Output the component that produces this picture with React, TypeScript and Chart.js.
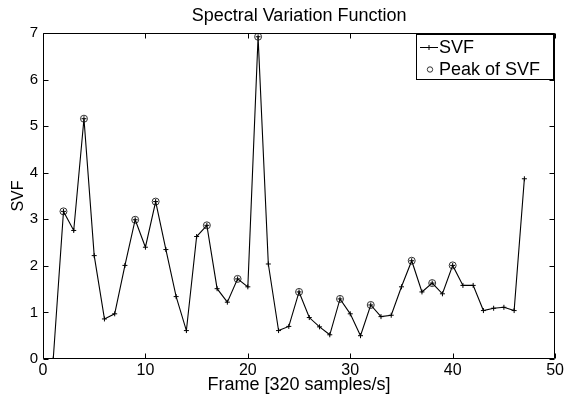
import React, { useEffect, useRef } from "react";
import { Chart, registerables } from "chart.js";

Chart.register(...registerables);

const frames = [
  1, 2, 3, 4, 5, 6, 7, 8, 9, 10, 11, 12, 13, 14, 15, 16, 17, 18, 19, 20, 21, 22, 23, 24,
  25, 26, 27, 28, 29, 30, 31, 32, 33, 34, 35, 36, 37, 38, 39, 40, 41, 42, 43, 44, 45, 46, 47,
];
const svfValues = [
  0.0, 3.17, 2.76, 5.16, 2.22, 0.86, 0.97, 2.01, 2.99, 2.4, 3.38, 2.35, 1.34, 0.61, 2.63, 2.87,
  1.51, 1.22, 1.72, 1.55, 6.92, 2.04, 0.61, 0.7, 1.44, 0.89, 0.69, 0.52, 1.29, 0.97, 0.5, 1.16,
  0.91, 0.94, 1.55, 2.11, 1.44, 1.63, 1.4, 2.01, 1.58, 1.58, 1.04, 1.09, 1.11, 1.04, 3.87,
];
const peakFrames = [2, 4, 9, 11, 16, 19, 21, 25, 29, 32, 36, 38, 40];
const xTicks = [0, 10, 20, 30, 40, 50];
const yTicks = [0, 1, 2, 3, 4, 5, 6, 7];
const titleText = "Spectral Variation Function";
const xLabel = "Frame [320 samples/s]";
const yLabel = "SVF";
const legendLabels = ["SVF", "Peak of SVF"];

const FONT = "'Liberation Sans', Arial, Helvetica, sans-serif";

const framePlugin = {
  id: "matlabFrame",
  afterDatasetsDraw(chart: any) {
    const { ctx, chartArea } = chart;
    const { left, right, top, bottom } = chartArea;
    const xs = chart.scales.x;
    const ys = chart.scales.y;
    ctx.save();
    ctx.strokeStyle = "#000";
    ctx.lineWidth = 1;
    const L = Math.round(left) + 0.5;
    const R = Math.round(right) - 0.5;
    const T = Math.round(top) + 0.5;
    const B = Math.round(bottom) - 0.5;
    ctx.beginPath();
    ctx.rect(L, T, R - L, B - T);
    ctx.stroke();
    const tl = 5;
    ctx.beginPath();
    xTicks.forEach((v) => {
      const px = Math.round(xs.getPixelForValue(v)) + 0.5;
      ctx.moveTo(px, B);
      ctx.lineTo(px, B - tl);
      ctx.moveTo(px, T);
      ctx.lineTo(px, T + tl);
    });
    yTicks.forEach((v) => {
      const py = Math.round(ys.getPixelForValue(v)) + 0.5;
      ctx.moveTo(L, py);
      ctx.lineTo(L + tl, py);
      ctx.moveTo(R, py);
      ctx.lineTo(R - tl, py);
    });
    ctx.stroke();

    // title
    ctx.fillStyle = "#000";
    ctx.font = `18px ${FONT}`;
    ctx.textAlign = "center";
    ctx.textBaseline = "middle";
    ctx.fillText(titleText, (left + right) / 2, 16);

    // legend
    const bx = 416.5;
    const by = 34.5;
    const bw = 137;
    const bh = 45;
    ctx.fillStyle = "#fff";
    ctx.fillRect(bx, by, bw, bh);
    ctx.strokeStyle = "#000";
    ctx.strokeRect(bx, by, bw, bh);
    ctx.font = `18px ${FONT}`;
    ctx.textAlign = "left";
    ctx.textBaseline = "middle";
    ctx.fillStyle = "#000";
    const y1 = 47.5;
    ctx.beginPath();
    ctx.moveTo(420, y1);
    ctx.lineTo(438, y1);
    ctx.moveTo(429, y1 - 2.5);
    ctx.lineTo(429, y1 + 2.5);
    ctx.stroke();
    ctx.fillText(legendLabels[0], 439, 48);
    const y2 = 69.5;
    ctx.beginPath();
    ctx.strokeStyle = "#333";
    ctx.arc(430, y2, 2.7, 0, Math.PI * 2);
    ctx.stroke();
    ctx.fillText(legendLabels[1], 439, 70);
    ctx.restore();
  },
};

export default function App() {
  const ref = useRef<HTMLCanvasElement | null>(null);

  useEffect(() => {
    document.body.style.margin = "0";
    const canvas = ref.current;
    if (!canvas) return;
    Chart.defaults.font.family = FONT;
    Chart.defaults.color = "#000";

    const lineData = frames.map((f, i) => ({ x: f, y: svfValues[i] }));
    const peakData = peakFrames.map((f) => ({ x: f, y: svfValues[frames.indexOf(f)] }));

    const chart = new Chart(canvas, {
      type: "line",
      data: {
        datasets: [
          {
            label: legendLabels[0],
            data: lineData,
            borderColor: "#000",
            borderWidth: 1.1,
            tension: 0,
            fill: false,
            pointStyle: "cross",
            pointRadius: 2.5,
            pointBorderColor: "#000",
            pointBorderWidth: 1,
          },
          {
            label: legendLabels[1],
            data: peakData,
            showLine: false,
            pointStyle: "circle",
            pointRadius: 3.5,
            pointBorderColor: "#333",
            pointBackgroundColor: "rgba(0,0,0,0)",
            pointBorderWidth: 1,
          },
        ],
      },
      options: {
        responsive: false,
        animation: false,
        devicePixelRatio: 1,
        layout: { padding: { top: 33, right: 10, left: 0, bottom: 0 } },
        plugins: {
          legend: { display: false },
          title: { display: false },
          tooltip: { enabled: false },
        },
        scales: {
          x: {
            type: "linear",
            min: 0,
            max: 50,
            grid: { display: false, drawTicks: false },
            border: { display: false },
            ticks: { padding: 2, font: { size: 16, family: FONT }, color: "#000" },
            afterBuildTicks: (s: any) => {
              s.ticks = xTicks.map((v) => ({ value: v }));
            },
            afterFit: (s: any) => {
              s.height = 40;
            },
            title: {
              display: true,
              text: xLabel,
              color: "#000",
              font: { size: 18, family: FONT },
              padding: { top: 0, bottom: 3 },
            },
          },
          y: {
            type: "linear",
            min: 0,
            max: 7,
            grid: { display: false, drawTicks: false },
            border: { display: false },
            ticks: { padding: 5, font: { size: 15, family: FONT }, color: "#000" },
            afterBuildTicks: (s: any) => {
              s.ticks = yTicks.map((v) => ({ value: v }));
            },
            afterFit: (s: any) => {
              s.width = 43;
            },
            title: {
              display: true,
              text: yLabel,
              color: "#000",
              font: { size: 16, family: FONT },
              padding: { top: 9, bottom: 0 },
            },
          },
        },
      },
      plugins: [framePlugin],
    });
    return () => chart.destroy();
  }, []);

  return (
    <div style={{ width: 566, height: 399 }}>
      <canvas ref={ref} width={566} height={399} style={{ display: "block" }} />
    </div>
  );
}
